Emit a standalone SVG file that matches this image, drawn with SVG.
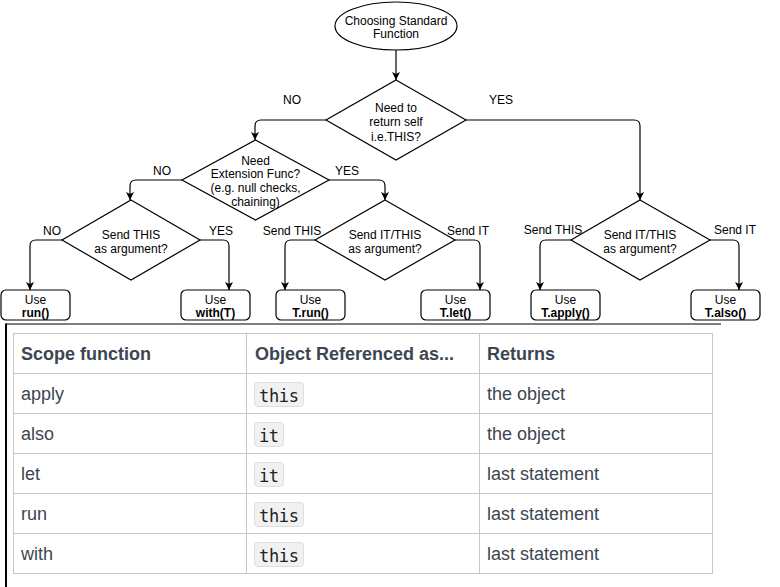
<svg xmlns="http://www.w3.org/2000/svg" width="780" height="587" viewBox="0 0 780 587">
<defs>
<marker id="arr" markerUnits="userSpaceOnUse" markerWidth="10" markerHeight="10" refX="8" refY="4" orient="auto">
<path d="M0,0 L8,4 L0,8 L2,4 Z" fill="#000"/>
</marker>
<style>
.s{fill:#fff;stroke:#000;stroke-width:1.2}
.e{fill:none;stroke:#000;stroke-width:1.2;marker-end:url(#arr)}
.t{font-family:"Liberation Sans",Arial,sans-serif;font-size:12px;fill:#000;text-anchor:middle}
.b{font-weight:bold}
.tb{fill:none;stroke:#c6c6c6;stroke-width:1}
.tt{font-family:"Liberation Sans",Arial,sans-serif;font-size:18px;fill:#3c4651}
.th{font-weight:bold}
.chip{fill:#f1f1f1;stroke:#dedede;stroke-width:1}
.code{font-family:"DejaVu Sans Mono","Liberation Mono",monospace;font-size:17px;fill:#222}
</style>
</defs>
<rect width="780" height="587" fill="#fff"/>

<g id="connectors">
<path class="e" d="M396,50 V80"/>
<path class="e" d="M326,120 H261 Q255,120 255,126 V140"/>
<path class="e" d="M465,120 H634 Q640,120 640,126 V200"/>
<path class="e" d="M182,180 H136 Q130,180 130,186 V200"/>
<path class="e" d="M329,180 H379 Q385,180 385,186 V200"/>
<path class="e" d="M62,240 H36 Q30,240 30,246 V290"/>
<path class="e" d="M200,240 H223 Q229,240 229,246 V290"/>
<path class="e" d="M315,240 H291 Q285,240 285,246 V290"/>
<path class="e" d="M455,240 H474 Q480,240 480,246 V290"/>
<path class="e" d="M571,240 H546 Q540,240 540,246 V290"/>
<path class="e" d="M710,240 H733 Q739,240 739,246 V290"/>
<text class="t" x="292" y="104">NO</text>
<text class="t" x="501" y="104">YES</text>
<text class="t" x="162" y="175">NO</text>
<text class="t" x="347" y="175">YES</text>
<text class="t" x="52" y="235">NO</text>
<text class="t" x="221" y="235">YES</text>
<text class="t" x="292" y="235">Send THIS</text>
<text class="t" x="468" y="235">Send IT</text>
<text class="t" x="553" y="234">Send THIS</text>
<text class="t" x="735" y="234">Send IT</text>
</g>

<g id="start">
<ellipse class="s" cx="396" cy="26" rx="61" ry="24"/>
<text class="t" x="396" y="24.5">Choosing Standard</text>
<text class="t" x="396" y="37.5">Function</text>
</g>

<g id="d-return-self">
<polygon class="s" points="396,80 466,120 396,160 326,120"/>
<text class="t" x="396" y="112">Need to</text>
<text class="t" x="396" y="126">return self</text>
<text class="t" x="396" y="141">i.e.THIS?</text>
</g>

<g id="d-extension">
<polygon class="s" points="255.5,140 329,180 255.5,220 182,180"/>
<text class="t" x="255.5" y="165">Need</text>
<text class="t" x="255.5" y="178">Extension Func?</text>
<text class="t" x="255.5" y="192">(e.g. null checks,</text>
<text class="t" x="255.5" y="206">chaining)</text>
</g>

<g id="d-send-this">
<polygon class="s" points="131,200 200,240 131,280 62,240"/>
<text class="t" x="131" y="239">Send THIS</text>
<text class="t" x="131" y="253">as argument?</text>
</g>

<g id="d-send-it-this-1">
<polygon class="s" points="385,200 455,240 385,280 315,240"/>
<text class="t" x="385" y="239">Send IT/THIS</text>
<text class="t" x="385" y="253">as argument?</text>
</g>

<g id="d-send-it-this-2">
<polygon class="s" points="640,200 710,240 640,280 571,240"/>
<text class="t" x="640" y="239">Send IT/THIS</text>
<text class="t" x="640" y="253">as argument?</text>
</g>

<g id="b-run">
<rect class="s" x="1" y="290" width="69" height="30" rx="5"/>
<text class="t" x="35.5" y="304">Use</text>
<text class="t b" x="35.5" y="317">run()</text>
</g>
<g id="b-with">
<rect class="s" x="181" y="290" width="69" height="30" rx="5"/>
<text class="t" x="215.5" y="304">Use</text>
<text class="t b" x="215.5" y="317">with(T)</text>
</g>
<g id="b-trun">
<rect class="s" x="276" y="290" width="69" height="30" rx="5"/>
<text class="t" x="310.5" y="304">Use</text>
<text class="t b" x="310.5" y="317">T.run()</text>
</g>
<g id="b-tlet">
<rect class="s" x="421" y="290" width="69" height="30" rx="5"/>
<text class="t" x="455.5" y="304">Use</text>
<text class="t b" x="455.5" y="317">T.let()</text>
</g>
<g id="b-tapply">
<rect class="s" x="531" y="290" width="69" height="30" rx="5"/>
<text class="t" x="565.5" y="304">Use</text>
<text class="t b" x="565.5" y="317">T.apply()</text>
</g>
<g id="b-talso">
<rect class="s" x="691" y="290" width="69" height="30" rx="5"/>
<text class="t" x="725.5" y="304">Use</text>
<text class="t b" x="725.5" y="317">T.also()</text>
</g>

<g id="frame">
<line x1="6" y1="324" x2="721" y2="324" stroke="#000" stroke-width="1.2"/>
<line x1="6" y1="323.4" x2="6" y2="587" stroke="#000" stroke-width="2"/>
</g>

<g id="table">
<rect class="tb" x="13.5" y="333.5" width="699" height="240"/>
<line class="tb" x1="13.5" y1="373.5" x2="712.5" y2="373.5"/>
<line class="tb" x1="13.5" y1="413.5" x2="712.5" y2="413.5"/>
<line class="tb" x1="13.5" y1="453.5" x2="712.5" y2="453.5"/>
<line class="tb" x1="13.5" y1="493.5" x2="712.5" y2="493.5"/>
<line class="tb" x1="13.5" y1="533.5" x2="712.5" y2="533.5"/>
<line class="tb" x1="246.5" y1="333.5" x2="246.5" y2="573.5"/>
<line class="tb" x1="479.5" y1="333.5" x2="479.5" y2="573.5"/>

<text class="tt th" x="21" y="360">Scope function</text>
<text class="tt th" x="255" y="360">Object Referenced as...</text>
<text class="tt th" x="487" y="360">Returns</text>

<text class="tt" x="21" y="400">apply</text>
<text class="tt" x="21" y="440">also</text>
<text class="tt" x="21" y="480">let</text>
<text class="tt" x="21" y="520">run</text>
<text class="tt" x="21" y="560">with</text>

<rect class="chip" x="254.5" y="382.5" width="49" height="24" rx="3"/>
<text class="code" x="259" y="401.5" textLength="40">this</text>
<rect class="chip" x="254.5" y="422.5" width="29" height="24" rx="3"/>
<text class="code" x="259" y="441.5" textLength="20">it</text>
<rect class="chip" x="254.5" y="462.5" width="29" height="24" rx="3"/>
<text class="code" x="259" y="481.5" textLength="20">it</text>
<rect class="chip" x="254.5" y="502.5" width="49" height="24" rx="3"/>
<text class="code" x="259" y="521.5" textLength="40">this</text>
<rect class="chip" x="254.5" y="542.5" width="49" height="24" rx="3"/>
<text class="code" x="259" y="561.5" textLength="40">this</text>

<text class="tt" x="487" y="400">the object</text>
<text class="tt" x="487" y="440">the object</text>
<text class="tt" x="487" y="480">last statement</text>
<text class="tt" x="487" y="520">last statement</text>
<text class="tt" x="487" y="560">last statement</text>
</g>
</svg>
